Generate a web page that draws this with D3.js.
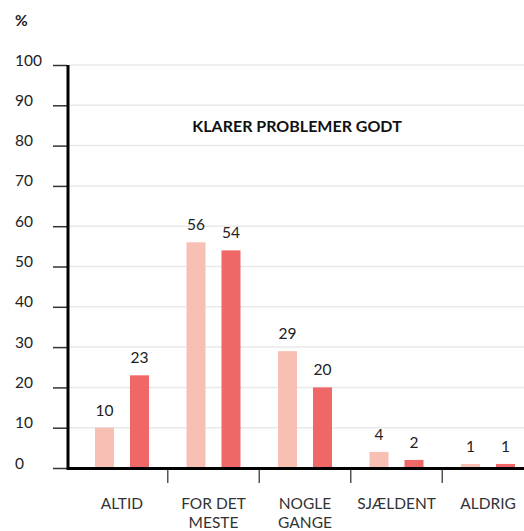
<!DOCTYPE html>
<html>
<head>
<meta charset="utf-8">
<script src="https://cdn.jsdelivr.net/npm/d3@7"></script>
<style>
  html, body { margin: 0; padding: 0; background: #fff; }
  svg { display: block; font-family: Lato, "Open Sans", sans-serif; }
</style>
</head>
<body>
<svg id="chart" width="524" height="531"></svg>
<script>
const categories = ["ALTID", "FOR DET MESTE", "NOGLE GANGE", "SJÆLDENT", "ALDRIG"];
const categoryLines = [["ALTID"], ["FOR DET", "MESTE"], ["NOGLE", "GANGE"], ["SJÆLDENT"], ["ALDRIG"]];
const seriesKeys = ["a", "b"];
const seriesA = [10, 56, 29, 4, 1];
const seriesB = [23, 54, 20, 2, 1];
const yTicks = [0, 10, 20, 30, 40, 50, 60, 70, 80, 90, 100];
const unitLabel = "%";
const title = "KLARER PROBLEMER GODT";

const colors = { a: "#f8c0b5", b: "#f06768" };

const svg = d3.select("#chart");

const y = d3.scaleLinear().domain([0, 100]).range([468, 65]);
const x = d3.scaleBand().domain(categories).range([67, 543])
  .paddingInner(0.41).paddingOuter(0.306);
const xs = d3.scaleBand().domain(seriesKeys).range([0, x.bandwidth()]).paddingInner(0.457);

// gridlines
svg.append("g").selectAll("line").data(yTicks.filter(d => d > 0)).join("line")
  .attr("x1", 69).attr("x2", 524)
  .attr("y1", d => y(d)).attr("y2", d => y(d))
  .attr("stroke", "#e9e9e9").attr("stroke-width", 1.5);

// y axis
const yAxis = d3.axisLeft(y).tickValues(yTicks).tickSize(14).tickFormat("");
const gy = svg.append("g").attr("transform", "translate(67,0)").call(yAxis);
gy.select(".domain").remove();
gy.selectAll(".tick line").attr("stroke", "#333").attr("stroke-width", 1.5);

svg.append("g").selectAll("text").data(yTicks).join("text")
  .attr("x", 15).attr("y", d => y(d) + 0.5)
  .attr("font-size", 15.5).attr("fill", "#222")
  .text(d => d);

svg.append("line").attr("x1", 68).attr("x2", 68).attr("y1", y(100)).attr("y2", 470)
  .attr("stroke", "#000").attr("stroke-width", 3);

// unit label
svg.append("text").attr("x", 15).attr("y", 26).attr("font-size", 15.5)
  .attr("font-weight", 700).attr("fill", "#222").text(unitLabel);

// title
svg.append("text").attr("x", 297).attr("y", 132).attr("text-anchor", "middle")
  .attr("font-size", 16).attr("font-weight", 700).attr("fill", "#111").text(title);

// bars
const rows = categories.map((c, i) => ({ cat: c, a: seriesA[i], b: seriesB[i] }));
const groups = svg.append("g").selectAll("g").data(rows).join("g")
  .attr("transform", d => `translate(${x(d.cat)},0)`);
groups.selectAll("rect").data(d => seriesKeys.map(k => ({ key: k, value: d[k] }))).join("rect")
  .attr("x", d => xs(d.key)).attr("width", xs.bandwidth())
  .attr("y", d => y(d.value)).attr("height", d => y(0) - y(d.value))
  .attr("fill", d => colors[d.key]);
groups.selectAll("text").data(d => seriesKeys.map(k => ({ key: k, value: d[k] }))).join("text")
  .attr("x", d => xs(d.key) + xs.bandwidth() / 2)
  .attr("y", d => y(d.value) - 12)
  .attr("text-anchor", "middle").attr("font-size", 15.5).attr("fill", "#222")
  .text(d => d.value);

// baseline
svg.append("line").attr("x1", 67).attr("x2", 524).attr("y1", 468.5).attr("y2", 468.5)
  .attr("stroke", "#000").attr("stroke-width", 3);

// separators
const seps = categories.slice(1).map(c => x(c) - x.step() * x.paddingInner() / 2);
svg.append("g").selectAll("line").data(seps).join("line")
  .attr("x1", d => d).attr("x2", d => d).attr("y1", 470).attr("y2", 483)
  .attr("stroke", "#555").attr("stroke-width", 1.5);

// category labels
const lab = svg.append("g").selectAll("text").data(categories).join("text")
  .attr("text-anchor", "middle").attr("font-size", 15.5).attr("fill", "#333")
  .attr("transform", d => `translate(${x(d) + x.bandwidth() / 2},509)`);
lab.selectAll("tspan").data((d, i) => categoryLines[i]).join("tspan")
  .attr("x", 0).attr("dy", (d, i) => i === 0 ? 0 : 19).text(d => d);
</script>
</body>
</html>
